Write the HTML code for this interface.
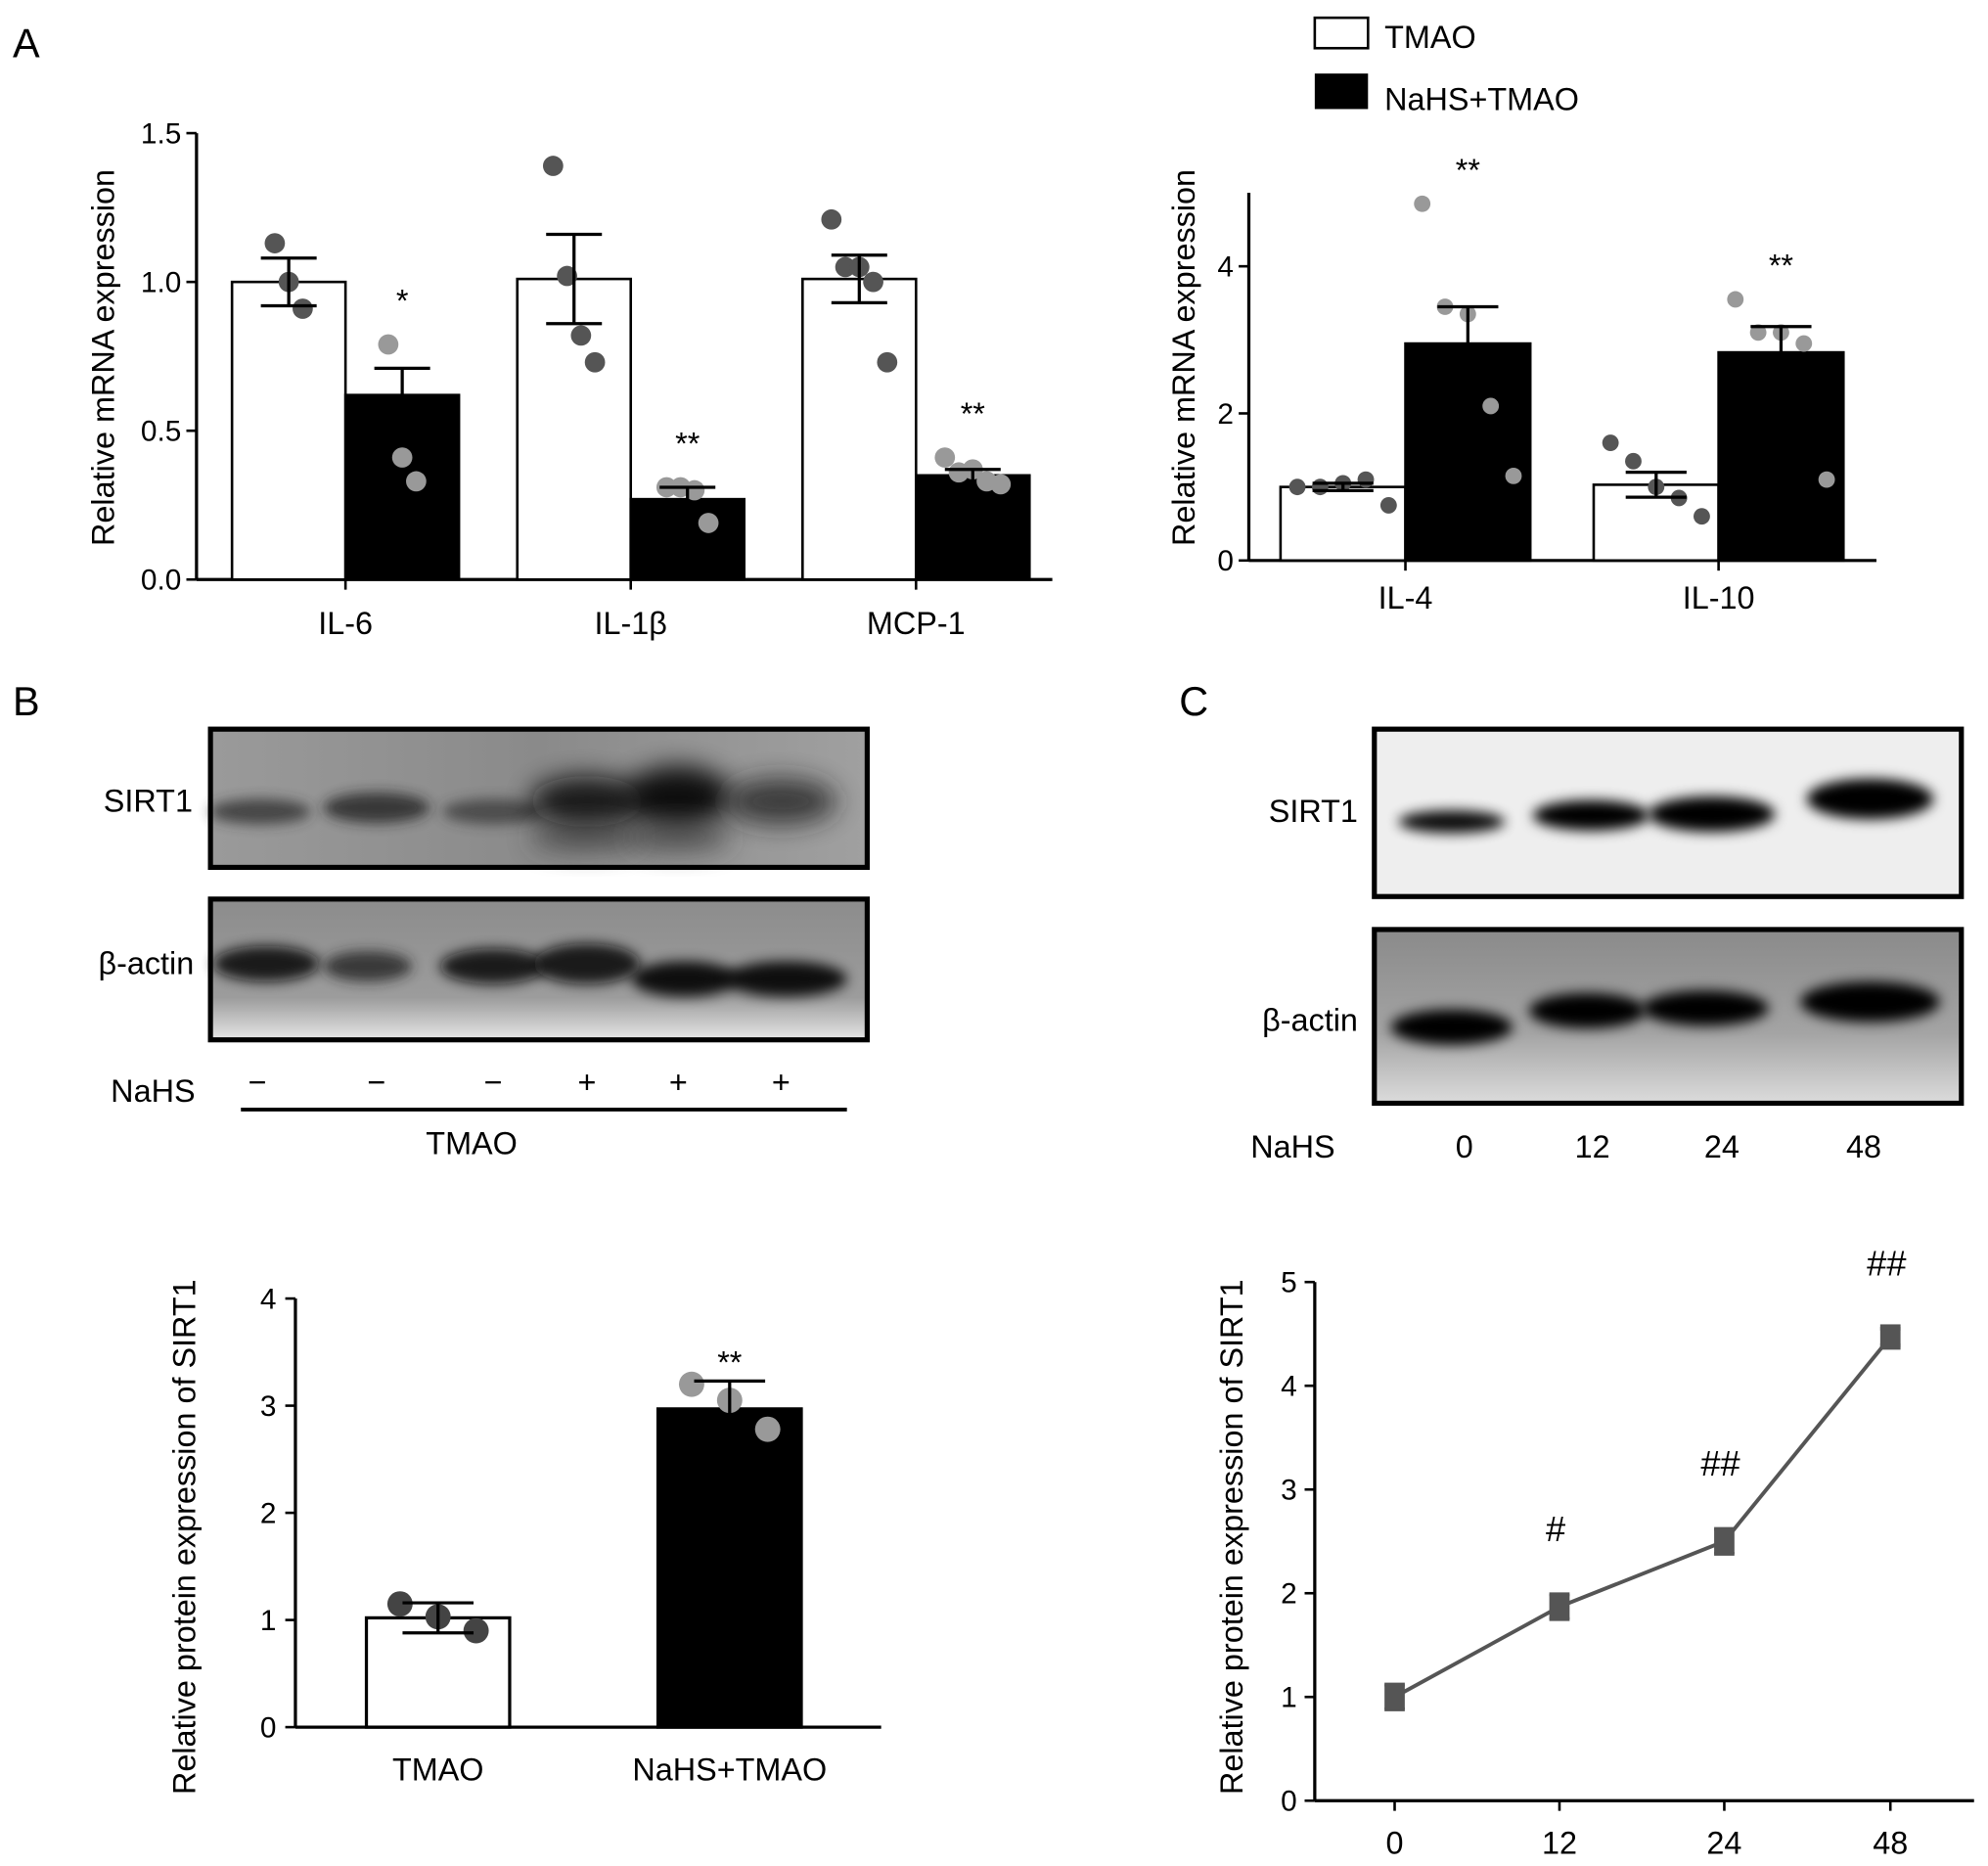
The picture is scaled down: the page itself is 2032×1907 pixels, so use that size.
<!DOCTYPE html>
<html><head><meta charset="utf-8"><style>
html,body{margin:0;padding:0;background:#fff;}
svg{display:block;font-family:"Liberation Sans",Arial,sans-serif;}
</style></head><body>
<svg id="fig" width="2032" height="1907" viewBox="0 0 1568 1471.5" preserveAspectRatio="none" xmlns="http://www.w3.org/2000/svg">
<defs>
<filter id="blur4" x="-30%" y="-80%" width="160%" height="260%"><feGaussianBlur stdDeviation="5"/></filter>
<filter id="blur10" x="-30%" y="-80%" width="160%" height="260%"><feGaussianBlur stdDeviation="10"/></filter>
<linearGradient id="bgB1" x1="0" x2="1"><stop offset="0" stop-color="#9a9a9a"/><stop offset="0.5" stop-color="#8a8a8a"/><stop offset="1" stop-color="#a0a0a0"/></linearGradient>
<linearGradient id="bgB2" x1="0" y1="0" x2="0" y2="1"><stop offset="0" stop-color="#8c8c8c"/><stop offset="0.7" stop-color="#9c9c9c"/><stop offset="1" stop-color="#e6e6e6"/></linearGradient>
<linearGradient id="bgC2" x1="0" y1="0" x2="0" y2="1"><stop offset="0" stop-color="#8a8a8a"/><stop offset="0.6" stop-color="#a4a4a4"/><stop offset="1" stop-color="#dcdcdc"/></linearGradient>
</defs>
<g id="root"></g>
</svg>
<script>
// ---------- Panel A left data ----------
const catsA1 = ['IL-6','IL-1β','MCP-1'];
const tmaoA1 = [1.00, 1.01, 1.01];
const tmaoErrA1 = [0.08, 0.15, 0.08];
const nahsA1 = [0.62, 0.27, 0.35];
const nahsErrA1 = [0.09, 0.04, 0.02];
const tmaoDotsA1 = [[1.13,1.00,0.91],[1.39,1.02,0.82,0.73],[1.21,1.05,1.05,1.00,0.73]];
const nahsDotsA1 = [[0.79,0.41,0.33],[0.31,0.31,0.30,0.19],[0.41,0.36,0.37,0.33,0.32]];
const sigA1 = ['*','**','**'];
const ticksA1 = [0,0.5,1.0,1.5];
// ---------- Panel A right data ----------
const catsA2 = ['IL-4','IL-10'];
const tmaoA2 = [1.00, 1.03];
const tmaoErrA2 = [0.05, 0.17];
const nahsA2 = [2.95, 2.83];
const nahsErrA2 = [0.50, 0.35];
const tmaoDotsA2 = [[1.00,1.00,1.05,1.10,0.75],[1.60,1.35,1.00,0.85,0.60]];
const nahsDotsA2 = [[4.85,3.45,3.35,2.10,1.15],[3.55,3.10,3.10,2.95,1.10]];
const sigA2 = ['**','**'];
const ticksA2 = [0,2,4];
// ---------- Panel B chart data ----------
const catsB = ['TMAO','NaHS+TMAO'];
const valsB = [1.02, 2.97];
const errB = [0.14, 0.26];
const dotsB = [[1.15,1.03,0.90],[3.20,3.05,2.78]];
const sigB = ['','**'];
const ticksB = [0,1,2,3,4];
// ---------- Panel C chart data ----------
const hoursC = [0,12,24,48];
const valsC = [1.00, 1.87, 2.50, 4.47];
const errC = [0.12, 0.12, 0.12, 0.08];
const sigC = ['','#','##','##'];
const ticksC = [0,1,2,3,4,5];

const NS='http://www.w3.org/2000/svg';
const root=document.getElementById('root');
function el(tag,attrs,parent,txt){const e=document.createElementNS(NS,tag);for(const k in attrs)e.setAttribute(k,attrs[k]);if(txt!==undefined)e.textContent=txt;(parent||root).appendChild(e);return e;}
function grp(name){const g=el('g',{});


return g;}
function yScale(y0,y1,v0,v1){return v=>y0+(v-v0)*(y1-y0)/(v1-v0);}

function barChart(o){
  const g=grp(o.name);
  const ys=yScale(o.yBottom,o.yTop,0,o.vTop);
  el('line',{x1:o.ax,y1:o.axTop,x2:o.ax,y2:o.yBottom,stroke:'#000','stroke-width':2.5},g);
  el('line',{x1:o.ax,y1:o.yBottom,x2:o.axRight,y2:o.yBottom,stroke:'#000','stroke-width':2.5},g);
  o.ticks.forEach(t=>{const y=ys(t);
    el('line',{x1:o.ax-8,y1:y,x2:o.ax,y2:y,stroke:'#000','stroke-width':2},g);
    const tx=el('text',{x:o.ax-12,y:y+8,'text-anchor':'end','font-size':23},g,o.fmt?o.fmt(t):t);
    
    
  });
  const yt=el('text',{x:0,y:0,transform:`translate(${o.titleX},${o.titleY}) rotate(-90)`,'text-anchor':'middle','font-size':25},g,o.title);
  
  
  o.cats.forEach((c,i)=>{
    const gx=o.x0+i*o.step;
    o.series.forEach((s,j)=>{
      const x=gx+j*o.bw, v=s.vals[i], y=ys(v), cx=x+o.bw/2;
      const r=el('rect',{x:x,y:y,width:o.bw,height:o.yBottom-y,fill:s.fill,stroke:'#000','stroke-width':2},g);
      
      
      const ds=s.dots[i];const n=ds.length;
      ds.forEach((d,k)=>{
        const c2=el('circle',{cx:cx+(k-(n-1)/2)*o.jit,cy:ys(d),r:o.dr,fill:s.dot},g);
        
        
      });
      const e=s.err[i];
      el('line',{x1:cx,y1:ys(v+e),x2:cx,y2:ys(v-e),stroke:'#000','stroke-width':2.5},g);
      el('line',{x1:cx-o.cap,y1:ys(v+e),x2:cx+o.cap,y2:ys(v+e),stroke:'#000','stroke-width':2.5},g);
      if(s.lowerCap) el('line',{x1:cx-o.cap,y1:ys(v-e),x2:cx+o.cap,y2:ys(v-e),stroke:'#000','stroke-width':2.5},g);
      if(s.sig&&s.sig[i]){const top=Math.max(v+e,...ds);
        const st=el('text',{x:cx,y:ys(top)-o.sigPx+14,'text-anchor':'middle','font-size':25},g,s.sig[i]);
        
        }
    });
    const tkx=o.tickAt(gx);
    el('line',{x1:tkx,y1:o.yBottom,x2:tkx,y2:o.yBottom+8,stroke:'#000','stroke-width':2},g);
    const lt=el('text',{x:tkx,y:o.labelY,'text-anchor':'middle','font-size':25},g,c);
    
    
  });
}

// Panel A left
barChart({name:'chart-a-left',ax:155,axTop:105,axRight:830,yBottom:457,yTop:105,vTop:1.5,ticks:ticksA1,fmt:t=>t.toFixed(1),
  title:'Relative mRNA expression',titleX:90,titleY:282,cats:catsA1,x0:183,step:225,bw:89.5,jit:11,dr:8,cap:22,sigPx:40,
  tickAt:gx=>gx+89.5,labelY:500,
  series:[{key:'tmao',fill:'#fff',vals:tmaoA1,err:tmaoErrA1,dots:tmaoDotsA1,dot:'#555',lowerCap:true},
          {key:'nahs',fill:'#000',vals:nahsA1,err:nahsErrA1,dots:nahsDotsA1,dot:'#999',lowerCap:false,sig:sigA1}]});
// Panel A right
barChart({name:'chart-a-right',ax:985,axTop:152,axRight:1480,yBottom:442,yTop:210,vTop:4,ticks:ticksA2,
  title:'Relative mRNA expression',titleX:942,titleY:282,cats:catsA2,x0:1010,step:247,bw:98.5,jit:18,dr:6.5,cap:24,sigPx:32,
  tickAt:gx=>gx+98.5,labelY:480,
  series:[{key:'tmao',fill:'#fff',vals:tmaoA2,err:tmaoErrA2,dots:tmaoDotsA2,dot:'#555',lowerCap:true},
          {key:'nahs',fill:'#000',vals:nahsA2,err:nahsErrA2,dots:nahsDotsA2,dot:'#999',lowerCap:false,sig:sigA2}]});
// Panel B chart (two bars)
(function(){
  const g=grp('chart-b');
  const yB=1362, ys=yScale(1362,1024,0,4);
  el('line',{x1:233,y1:1024,x2:233,y2:yB,stroke:'#000','stroke-width':2.5},g);
  el('line',{x1:233,y1:yB,x2:695,y2:yB,stroke:'#000','stroke-width':2.5},g);
  ticksB.forEach(t=>{const y=ys(t);el('line',{x1:225,y1:y,x2:233,y2:y,stroke:'#000','stroke-width':2},g);
    const tx=el('text',{x:218,y:y+8,'text-anchor':'end','font-size':23},g,t);
    
    });
  const yt=el('text',{x:0,y:0,transform:'translate(154,1212) rotate(-90)','text-anchor':'middle','font-size':25},g,'Relative protein expression of SIRT1');
  
  
  const xs=[289,519], fills=['#fff','#000'], dc=['#444','#999'];
  catsB.forEach((c,i)=>{
    const x=xs[i], w=113, v=valsB[i], y=ys(v), cx=x+w/2;
    const r=el('rect',{x:x,y:y,width:w,height:yB-y,fill:fills[i],stroke:'#000','stroke-width':2.5},g);
    
    
    dotsB[i].forEach((d,k)=>{const c2=el('circle',{cx:cx+(k-1)*30,cy:ys(d),r:10,fill:dc[i]},g);
      
      });
    const e=errB[i];
    el('line',{x1:cx,y1:ys(v+e),x2:cx,y2:ys(v-e),stroke:'#000','stroke-width':2.5},g);
    el('line',{x1:cx-28,y1:ys(v+e),x2:cx+28,y2:ys(v+e),stroke:'#000','stroke-width':2.5},g);
    if(i===0) el('line',{x1:cx-28,y1:ys(v-e),x2:cx+28,y2:ys(v-e),stroke:'#000','stroke-width':2.5},g);
    if(sigB[i]){const st=el('text',{x:cx,y:ys(v+e)-6,'text-anchor':'middle','font-size':25},g,sigB[i]);
      
      }
    const lt=el('text',{x:cx,y:1404,'text-anchor':'middle','font-size':25},g,c);
    
    
  });
})();
// Panel C line chart
(function(){
  const g=grp('chart-c');
  const ys=yScale(1420,1011,0,5);
  const xPos=[1100,1230,1360,1491];
  el('line',{x1:1037,y1:1011,x2:1037,y2:1420,stroke:'#000','stroke-width':2.5},g);
  el('line',{x1:1037,y1:1420,x2:1557,y2:1420,stroke:'#000','stroke-width':2.5},g);
  ticksC.forEach(t=>{const y=ys(t);el('line',{x1:1029,y1:y,x2:1037,y2:y,stroke:'#000','stroke-width':2},g);
    const tx=el('text',{x:1023,y:y+8,'text-anchor':'end','font-size':23},g,t);
    
    });
  const yt=el('text',{x:0,y:0,transform:'translate(980,1212) rotate(-90)','text-anchor':'middle','font-size':25},g,'Relative protein expression of SIRT1');
  
  
  hoursC.forEach((h,i)=>{const x=xPos[i];
    el('line',{x1:x,y1:1420,x2:x,y2:1428,stroke:'#000','stroke-width':2},g);
    const lt=el('text',{x:x,y:1462,'text-anchor':'middle','font-size':25},g,h);
    
    });
  const pts=valsC.map((v,i)=>xPos[i]+','+ys(v)).join(' ');
  const pl=el('polyline',{points:pts,fill:'none',stroke:'#555','stroke-width':3},g);
  
  
  valsC.forEach((v,i)=>{const x=xPos[i],y=ys(v),e=errC[i];
    el('line',{x1:x,y1:ys(v+e),x2:x,y2:ys(v-e),stroke:'#555','stroke-width':3},g);
    el('line',{x1:x-8,y1:ys(v+e),x2:x+8,y2:ys(v+e),stroke:'#555','stroke-width':3},g);
    el('line',{x1:x-8,y1:ys(v-e),x2:x+8,y2:ys(v-e),stroke:'#555','stroke-width':3},g);
    const m=el('rect',{x:x-8,y:y-10,width:16,height:20,fill:'#555'},g);
    
    
    if(sigC[i]){const st=el('text',{x:x-3,y:ys(v+e)-42,'text-anchor':'middle','font-size':28},g,sigC[i]);
      
      }
  });
})();

// Blots
function blot(name,x,y,w,h,fill,bands){
  const g=grp(name);
  el('rect',{x:x,y:y,width:w,height:h,fill:fill},g);
  bands.forEach(b=>el('ellipse',{cx:b[0],cy:b[1],rx:b[2],ry:b[3],fill:b[4]||'#000',opacity:b[5]||1,filter:b[6]||'url(#blur4)'},g));
  el('rect',{x:x,y:y,width:w,height:h,fill:'none',stroke:'#000','stroke-width':4},g);
}
blot('blot-b-sirt1',166,575,518,109,'url(#bgB1)',[
  [205,640,40,10,'#333',0.8],[297,637,42,12,'#222',0.8],[389,640,40,10,'#333',0.7],
  [463,632,45,20,'#111',0.9,'url(#blur10)'],[535,628,42,24,'#000',0.9,'url(#blur10)'],[616,632,44,18,'#222',0.8,'url(#blur10)'],
  [463,660,45,12,'#333',0.6,'url(#blur10)'],[535,660,42,12,'#333',0.6,'url(#blur10)']]);
blot('blot-b-actin',166,709,518,111,'url(#bgB2)',[
  [210,760,42,14,'#111',0.9],[290,762,35,12,'#222',0.8],[389,762,42,14,'#111',0.9],
  [463,760,42,16,'#111',0.9],[540,772,42,14,'#000',0.9],[620,772,48,14,'#000',0.9]]);
blot('blot-c-sirt1',1084,575,463,132,'#eeeeee',[
  [1145,648,42,9,'#000',0.95],[1255,643,46,12,'#000'],[1350,642,50,14,'#000'],[1475,630,50,16,'#000']]);
blot('blot-c-actin',1084,733,463,137,'url(#bgC2)',[
  [1145,810,48,14,'#000'],[1252,797,46,14,'#000'],[1345,795,50,14,'#000'],[1475,790,55,16,'#000']]);

function txt(name,x,y,s,t,anchor){const e=el('text',{x:x,y:y,'font-size':s,'text-anchor':anchor||'start'},root,t);
  
  return e;}
txt('panel-label-a',10,45,32,'A');
txt('panel-label-b',10,564,32,'B');
txt('panel-label-c',930,564,32,'C');
txt('blot-label-sirt1-b',152,640,25,'SIRT1','end');
txt('blot-label-actin-b',153,768,25,'β-actin','end');
txt('blot-label-sirt1-c',1071,648,25,'SIRT1','end');
txt('blot-label-actin-c',1071,813,25,'β-actin','end');
txt('nahs-label-b',154,869,25,'NaHS','end');
const signsB=['−','−','−','+','+','+'], signX=[203,297,389,463,535,616];
signsB.forEach((s,i)=>txt('nahs-sign',signX[i],862,25,s,'middle'));
el('line',{x1:190,y1:875,x2:668,y2:875,stroke:'#000','stroke-width':3});
txt('tmao-label-b',372,910,25,'TMAO','middle');
txt('nahs-label-c',1053,913,25,'NaHS','end');
const hrsLbl=['0','12','24','48'], hrsX=[1155,1256,1358,1470];
hrsLbl.forEach((s,i)=>txt('nahs-time-label',hrsX[i],913,25,s,'middle'));
// legend
const lg=grp('legend');
el('rect',{x:1037,y:14,width:42,height:24,fill:'#fff',stroke:'#000','stroke-width':2},lg);
el('rect',{x:1037,y:58,width:42,height:28,fill:'#000'},lg);
const l1=el('text',{x:1092,y:38,'font-size':25},lg,'TMAO');


const l2=el('text',{x:1092,y:87,'font-size':25},lg,'NaHS+TMAO');


</script>
</body></html>
